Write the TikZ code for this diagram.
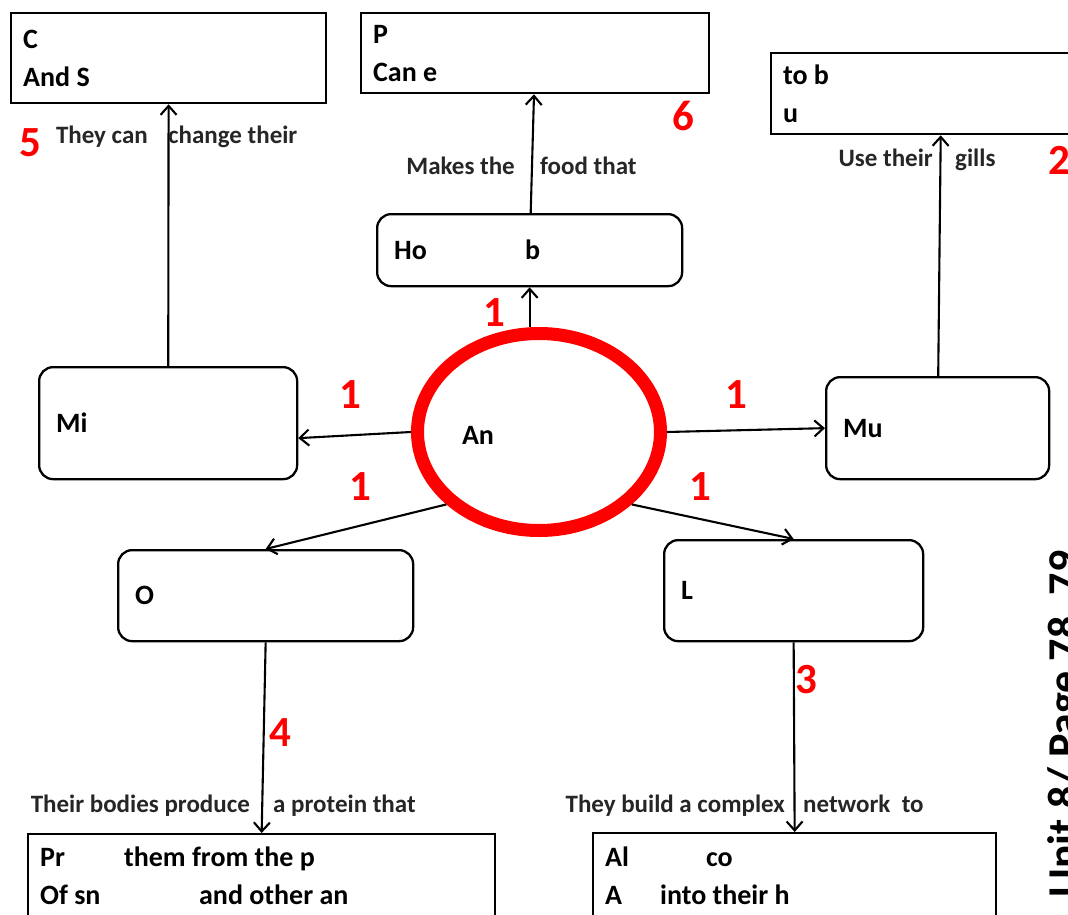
\documentclass[tikz,border=0pt]{standalone}
\usepackage{fontspec}
\setmainfont{Carlito}
\usetikzlibrary{arrows.meta,positioning,shapes.geometric}
\newcommand{\bxfont}{\fontsize{28}{38}\selectfont\bfseries}
\newcommand{\lblfont}{\fontsize{25}{30}\selectfont\bfseries}
\newcommand{\redfont}{\fontsize{43}{50}\selectfont\bfseries}
\newcommand{\unitfont}{\fontsize{44}{50}\selectfont\bfseries}
\tikzset{sqbox/.style={draw, line width=2.3pt, anchor=north west, inner xsep=12pt, inner ysep=0pt, align=flush left, font=\bxfont}}
\tikzset{rbox/.style={sqbox, rounded corners=14pt, inner xsep=17pt}}
\tikzset{hub/.style={draw=red, line width=13pt, ellipse, minimum width=243pt, minimum height=197pt}}
\tikzset{arr/.style={draw, line width=2.1pt, -{Straight Barb[length=9pt,width=16pt]}}}
\tikzset{num/.style={text=red, font=\redfont, inner sep=0pt}}
\tikzset{lbl/.style={font=\lblfont, text=black!85, inner sep=0pt, text height=17pt, text depth=5pt}}

\begin{document}
\begin{tikzpicture}[x=1pt,y=-1pt]
		\useasboundingbox (0,0) rectangle (1068,915);
		
		% centre
		\node[hub] (An) at (539,432){};
		\node[font=\bxfont, inner sep=0pt] (Antx) at (478,435){An};
		
		% first ring
		\node[rbox, text width=271pt, minimum height=72pt] (Ho) at (376,213){\makebox[131pt][l]{Ho}b};
		\node[rbox, text width=224pt, minimum height=112pt] (Mi) at (38,366){Mi};
		\node[rbox, text width=189pt, minimum height=102pt] (Mu) at (825,376){Mu};
		\node[rbox, text width=261pt, minimum height=91pt] (O) at (117,549){O};
		\node[rbox, text width=225pt, minimum height=101pt] (L) at (663,539){L};
		
		% answer boxes
		\node[sqbox, text width=291pt, minimum height=90pt] (C) at (10,12){C\\And S};
		\node[sqbox, text width=324pt, minimum height=80pt] (P) at (360,12){P\\Can e};
		\node[sqbox, text width=316pt, minimum height=81pt] (tob) at (770,52){to b\\u};
		\node[sqbox, text width=443pt, minimum height=84pt] (Pr) at (27,833){\makebox[84pt][l]{Pr}them from the p\\\makebox[159pt][l]{Of sn}and other an};
		\node[sqbox, text width=379pt, minimum height=85pt] (Al) at (592,832){\makebox[101pt][l]{Al}co\\\makebox[55pt][l]{A}into\ their\ h};
		
		\draw[arr] (An.north -| Ho.south) -- (Ho.south);
		\draw[arr] (An.west) -- ([yshift=-15pt]Mi.east);
		\draw[arr] (An.east) -- (Mu.west);
		\draw[arr] (An.218) -- (O.north);
		\draw[arr] (An.322) -- (L.north);
		
		\draw[arr] (Mi) -- (C);
		\draw[arr] (Ho) -- (P);
		\draw[arr] (Mu) -- (tob);
		\draw[arr] (O.south) -- (Pr.north);
		\draw[arr] (L.south) -- (Al.north);
		
		% sentence halves beside the arrows
		\node[lbl, anchor=east] (s5a) at (148,138){They can};
		\node[lbl, anchor=west] (s5b) at (168,138){change their};
		\node[lbl, anchor=east] (s6a) at (515,168){Makes the};
		\node[lbl, anchor=west] (s6b) at (540,168){food that};
		\node[lbl, anchor=east] (s2a) at (933,160){Use their};
		\node[lbl, anchor=west] (s2b) at (955,160){gills};
		\node[lbl, anchor=east] (s4a) at (250,806){Their bodies produce};
		\node[lbl, anchor=west] (s4b) at (273,806){a protein that};
		\node[lbl, anchor=east] (s3a) at (785,806){They build a complex};
		\node[lbl, anchor=west] (s3b) at (803,806){network\ \ to};
		
		% marks
		\node[num] (n5) at (30,143){5};
		\node[num] (n6) at (683,116){6};
		\node[num] (n2) at (1059,160){2};
		\node[num] (n1a) at (494,313){1};
		\node[num] (n1b) at (350,395){1};
		\node[num] (n1c) at (736,395){1};
		\node[num] (n1d) at (360,487){1};
		\node[num] (n1e) at (700,487){1};
		\node[num] (n3) at (806,680){3};
		\node[num] (n4) at (280,733){4};
		
		\node[rotate=90, anchor=base, font=\unitfont, inner sep=0pt] (unit) at (1078,724){Unit 8/ Page 78, 79};
	\end{tikzpicture}
\end{document}
